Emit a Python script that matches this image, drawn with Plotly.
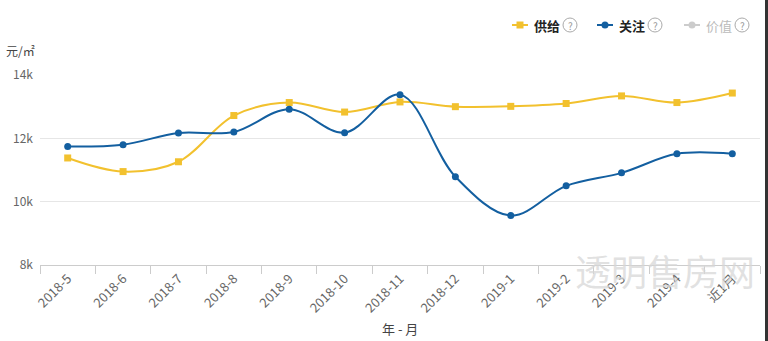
import plotly.graph_objects as go

# Monthly series (元/㎡)
months = ["2018-5", "2018-6", "2018-7", "2018-8", "2018-9", "2018-10", "2018-11",
          "2018-12", "2019-1", "2019-2", "2019-3", "2019-4", "近1月"]
supply = [11380, 10950, 11260, 12720, 13130, 12830, 13150,
          13000, 13010, 13100, 13340, 13130, 13430]
attention = [11740, 11800, 12170, 12200, 12920, 12180, 13380,
             10790, 9560, 10500, 10910, 11510, 11510]

y_ticks = [8000, 10000, 12000, 14000]
y_tick_text = ["8k", "10k", "12k", "14k"]

legend_items = [("供给", "#F2C12E", "square"), ("关注", "#135FA0", "circle"), ("价值", "#CCCCCC", "circle")]

YELLOW = "#F2C12E"
BLUE = "#135FA0"
FONT = "Noto Sans CJK SC"

W, H = 768, 341
ML, MR, MT, MB = 40, 8, 75, 76

fig = go.Figure()
fig.add_trace(go.Scatter(
    x=months, y=supply, mode="lines+markers", name="供给",
    line=dict(color=YELLOW, width=2, shape="spline", smoothing=1.0),
    marker=dict(symbol="square", size=7, color=YELLOW),
))
fig.add_trace(go.Scatter(
    x=months, y=attention, mode="lines+markers", name="关注",
    line=dict(color=BLUE, width=2, shape="spline", smoothing=1.0),
    marker=dict(symbol="circle", size=7, color=BLUE),
))


def px_x(px):
    return (px - ML) / (W - ML - MR)


def px_y(py):
    return (H - MB - py) / (H - MT - MB)


shapes = []
annotations = []

# hand-drawn legend along the top right
legend_x = [512, 597, 684]
ly = 25
for (label, color, sym), x0 in zip(legend_items, legend_x):
    shapes.append(dict(type="line", xref="paper", yref="paper",
                       x0=px_x(x0), x1=px_x(x0 + 16), y0=px_y(ly), y1=px_y(ly),
                       line=dict(color=color, width=2)))
    cx = x0 + 8
    if sym == "square":
        shapes.append(dict(type="rect", xref="paper", yref="paper",
                           x0=px_x(cx - 3.5), x1=px_x(cx + 3.5), y0=px_y(ly + 3.5), y1=px_y(ly - 3.5),
                           fillcolor=color, line=dict(width=0)))
    else:
        shapes.append(dict(type="circle", xref="paper", yref="paper",
                           x0=px_x(cx - 3.5), x1=px_x(cx + 3.5), y0=px_y(ly + 3.5), y1=px_y(ly - 3.5),
                           fillcolor=color, line=dict(width=0)))
    text_color = "#222222" if color != "#CCCCCC" else "#BBBBBB"
    annotations.append(dict(xref="paper", yref="paper", x=px_x(x0 + 20), y=px_y(ly),
                            xanchor="left", yanchor="middle", showarrow=False,
                            text="<b>" + label + "</b>" if color != "#CCCCCC" else label,
                            font=dict(family=FONT, size=13, color=text_color)))
    qx = x0 + 58
    shapes.append(dict(type="circle", xref="paper", yref="paper",
                       x0=px_x(qx - 7), x1=px_x(qx + 7), y0=px_y(ly + 7), y1=px_y(ly - 7),
                       line=dict(color="#AAAAAA", width=1)))
    annotations.append(dict(xref="paper", yref="paper", x=px_x(qx), y=px_y(ly),
                            xanchor="center", yanchor="middle", showarrow=False,
                            text="?", font=dict(family=FONT, size=10, color="#999999")))

# axis captions
annotations.append(dict(xref="paper", yref="paper", x=px_x(4), y=px_y(50),
                        xanchor="left", yanchor="middle", showarrow=False,
                        text="元/㎡", font=dict(family=FONT, size=12, color="#444444")))
annotations.append(dict(xref="paper", yref="paper", x=px_x(400), y=px_y(328),
                        xanchor="center", yanchor="middle", showarrow=False,
                        text="年 - 月", font=dict(family=FONT, size=13, color="#444444")))

# site watermark
annotations.append(dict(xref="paper", yref="paper", x=px_x(665), y=px_y(270),
                        xanchor="center", yanchor="middle", showarrow=False,
                        text="透明售房网", font=dict(family=FONT, size=36, color="rgba(215,215,215,0.75)")))

# thin dark border on the right edge
shapes.append(dict(type="rect", xref="paper", yref="paper",
                   x0=px_x(765), x1=px_x(768), y0=px_y(0), y1=px_y(H),
                   fillcolor="#333333", line=dict(width=0)))

fig.update_layout(
    width=W, height=H,
    margin=dict(l=ML, r=MR, t=MT, b=MB),
    paper_bgcolor="white", plot_bgcolor="white",
    showlegend=False,
    font=dict(family=FONT, size=12, color="#666666"),
    shapes=shapes, annotations=annotations,
    xaxis=dict(
        type="category", tickson="boundaries", ticks="outside", ticklen=8,
        tickcolor="#CCCCCC", showline=True, linecolor="#CCCCCC", linewidth=1,
        showgrid=False, tickangle=-45, range=[-0.5, len(months) - 0.5],
        tickfont=dict(family=FONT, size=13, color="#666666"),
    ),
    yaxis=dict(
        range=[8000, 14000], tickvals=y_ticks, ticktext=y_tick_text,
        showgrid=True, gridcolor="#E6E6E6", gridwidth=1, zeroline=False,
        showline=False, ticks="", ticklabelstandoff=6,
        tickfont=dict(family=FONT, size=12, color="#666666"),
    ),
)

fig.write_html("out.html")
